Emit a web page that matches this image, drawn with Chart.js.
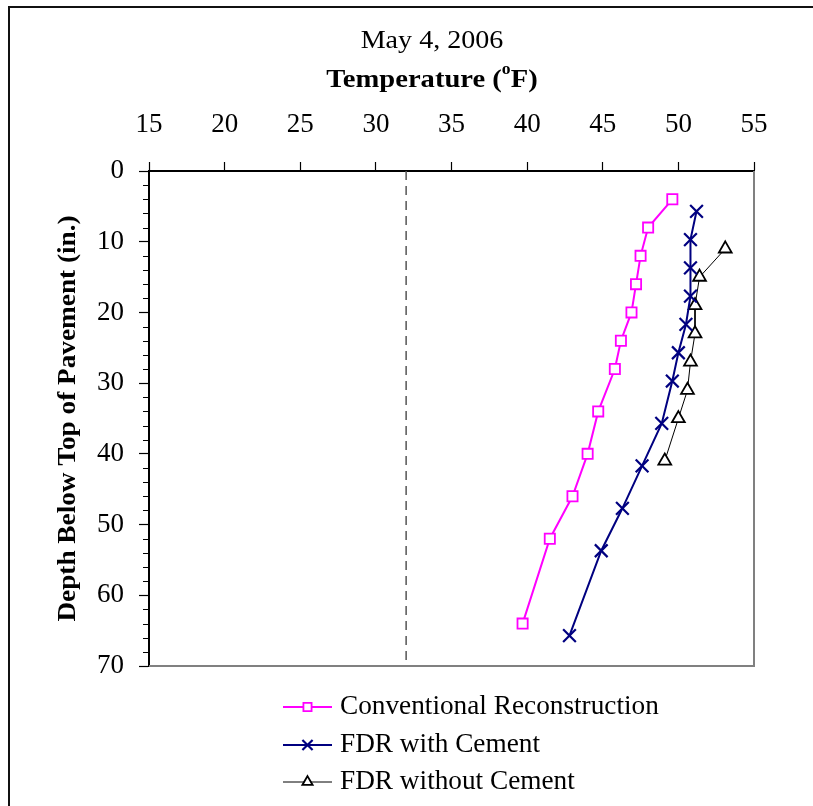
<!DOCTYPE html>
<html>
<head>
<meta charset="utf-8">
<script src="https://cdn.jsdelivr.net/npm/chart.js@4.4.0/dist/chart.umd.min.js"></script>
<style>
  html, body { margin: 0; padding: 0; background: #fff; }
  #wrap { width: 813px; height: 806px; }
</style>
</head>
<body>
<div id="wrap"><canvas id="profile-chart" width="813" height="806"></canvas></div>
<script>
// depth below pavement surface (in.) and measured temperature (F)
const convDepth = [4, 8, 12, 16, 20, 24, 28, 34, 40, 46, 52, 64];
const convTemp  = [49.6, 48.0, 47.5, 47.2, 46.9, 46.2, 45.8, 44.7, 44.0, 43.0, 41.5, 39.7];

const cemDepth = [5.7, 9.7, 13.7, 17.7, 21.7, 25.7, 29.7, 35.7, 41.7, 47.7, 53.7, 65.7];
const cemTemp  = [51.2, 50.8, 50.8, 50.8, 50.5, 50.0, 49.6, 48.9, 47.6, 46.3, 44.9, 42.8];

const noCemDepth = [11, 15, 19, 23, 27, 31, 35, 41];
const noCemTemp  = [53.1, 51.4, 51.1, 51.1, 50.8, 50.6, 50.0, 49.1];

const freezeTemp = 32;
const depthRange = [0, 70];
const tempRange = [15, 55];

const seriesNames = ['Conventional Reconstruction', 'FDR with Cement', 'FDR without Cement'];
const chartTitle = 'May 4, 2006';
const xTitle = ['Temperature (', 'o', 'F)'];
const yTitle = 'Depth Below Top of Pavement (in.)';

const SERIF = "'Liberation Serif', 'Times New Roman', serif";

function pts(temps, depths) {
  return temps.map((t, i) => ({ x: t, y: depths[i] }));
}

const seriesStyles = [
  { color: '#FF00FF', style: 'rect', radius: 7.2, width: 2, markWidth: 1.8 },
  { color: '#000080', style: 'crossRot', radius: 9, width: 2, markWidth: 2.2 },
  { color: '#000000', style: 'triangle', radius: 7.4, width: 1, markWidth: 1.8 }
];

function stretchedText(ctx, text, x, y, font, sx, align) {
  ctx.save();
  ctx.font = font;
  ctx.textBaseline = 'middle';
  ctx.textAlign = align || 'center';
  ctx.translate(x, y);
  ctx.scale(sx, 1);
  ctx.fillText(text, 0, 0);
  ctx.restore();
}

function drawMarker(ctx, s, x, y) {
  ctx.save();
  ctx.strokeStyle = s.color;
  ctx.fillStyle = '#fff';
  ctx.lineWidth = s.markWidth;
  ctx.beginPath();
  if (s.style === 'rect') {
    const h = s.radius * Math.SQRT1_2;
    ctx.rect(x - h, y - h, 2 * h, 2 * h);
    ctx.fill();
  } else if (s.style === 'crossRot') {
    const h = s.radius * Math.SQRT1_2;
    ctx.moveTo(x - h, y - h); ctx.lineTo(x + h, y + h);
    ctx.moveTo(x + h, y - h); ctx.lineTo(x - h, y + h);
  } else {
    const r = s.radius;
    ctx.moveTo(x, y - r);
    ctx.lineTo(x + r * 0.866, y + r / 2);
    ctx.lineTo(x - r * 0.866, y + r / 2);
    ctx.closePath();
    ctx.fill();
  }
  ctx.stroke();
  ctx.restore();
}

const decorations = {
  id: 'decorations',
  beforeDatasetsDraw(chart) {
    const { ctx, chartArea: a } = chart;
    // plot area frame on the right and bottom
    ctx.save();
    ctx.strokeStyle = '#808080';
    ctx.lineWidth = 2;
    ctx.beginPath();
    ctx.moveTo(a.left, a.bottom);
    ctx.lineTo(a.right, a.bottom);
    ctx.lineTo(a.right, a.top);
    ctx.stroke();

    // minor ticks on the depth axis
    const ys = chart.scales.y;
    ctx.strokeStyle = '#000';
    ctx.lineWidth = 1.2;
    ctx.beginPath();
    for (let d = depthRange[0]; d <= depthRange[1]; d += 2) {
      if (d % 10 === 0) continue;
      const py = Math.round(ys.getPixelForValue(d)) + 0.5;
      ctx.moveTo(a.left - 6, py);
      ctx.lineTo(a.left, py);
    }
    ctx.stroke();
    ctx.restore();
  },
  afterDraw(chart) {
    const { ctx, chartArea: a } = chart;
    ctx.save();
    ctx.fillStyle = '#000';

    // outer frame
    ctx.strokeStyle = '#111';
    ctx.lineWidth = 2;
    ctx.beginPath();
    ctx.moveTo(9, chart.height);
    ctx.lineTo(9, 7);
    ctx.lineTo(chart.width, 7);
    ctx.stroke();

    stretchedText(ctx, chartTitle, 432, 41, '26px ' + SERIF, 1.08);

    // axis title with superscript degree "o"
    const big = 'bold 26px ' + SERIF, small = 'bold 16px ' + SERIF;
    const sx = 1.1;
    ctx.font = big;
    const w0 = ctx.measureText(xTitle[0]).width;
    const w2 = ctx.measureText(xTitle[2]).width;
    ctx.font = small;
    const w1 = ctx.measureText(xTitle[1]).width;
    const total = (w0 + w1 + w2) * sx;
    let tx = 432 - total / 2;
    stretchedText(ctx, xTitle[0], tx, 80, big, sx, 'left');
    tx += w0 * sx;
    stretchedText(ctx, xTitle[1], tx, 70, small, sx, 'left');
    tx += w1 * sx;
    stretchedText(ctx, xTitle[2], tx, 80, big, sx, 'left');

    // depth axis title, rotated
    ctx.save();
    ctx.translate(69, (a.top + a.bottom) / 2);
    ctx.rotate(-Math.PI / 2);
    stretchedText(ctx, yTitle, 0, 0, 'bold 25px ' + SERIF, 1.09);
    ctx.restore();

    // legend
    const rows = [707, 745, 782];
    seriesNames.forEach((name, i) => {
      const s = seriesStyles[i];
      const y = rows[i];
      ctx.save();
      ctx.strokeStyle = s.color;
      ctx.lineWidth = s.width;
      ctx.beginPath();
      ctx.moveTo(283, y);
      ctx.lineTo(332, y);
      ctx.stroke();
      ctx.restore();
      drawMarker(ctx, Object.assign({}, s, { radius: s.radius * 0.8 }), 307.5, y);
      ctx.fillStyle = '#000';
      stretchedText(ctx, name, 340, y, '27px ' + SERIF, 1.01, 'left');
    });
    ctx.restore();
  }
};

function makeSet(label, data, s) {
  return {
    label: label,
    data: data,
    showLine: true,
    borderColor: s.color,
    borderWidth: s.width,
    pointStyle: s.style,
    pointRadius: s.radius,
    pointHoverRadius: s.radius,
    pointBorderColor: s.color,
    pointBackgroundColor: '#fff',
    pointBorderWidth: s.markWidth,
    tension: 0,
    fill: false
  };
}

new Chart(document.getElementById('profile-chart'), {
  type: 'scatter',
  data: {
    datasets: [
      {
        label: 'freezing',
        data: [{ x: freezeTemp, y: depthRange[0] }, { x: freezeTemp, y: depthRange[1] }],
        showLine: true,
        borderColor: '#555',
        borderWidth: 1.5,
        borderDash: [9, 6],
        pointRadius: 0,
        pointHoverRadius: 0
      },
      makeSet(seriesNames[0], pts(convTemp, convDepth), seriesStyles[0]),
      makeSet(seriesNames[1], pts(cemTemp, cemDepth), seriesStyles[1]),
      makeSet(seriesNames[2], pts(noCemTemp, noCemDepth), seriesStyles[2])
    ]
  },
  options: {
    responsive: false,
    animation: false,
    events: [],
    layout: { padding: { top: 100, left: 20, right: 59, bottom: 140 } },
    plugins: {
      legend: { display: false },
      title: { display: false },
      tooltip: { enabled: false }
    },
    scales: {
      x: {
        type: 'linear',
        position: 'top',
        min: tempRange[0],
        max: tempRange[1],
        afterFit(scale) { scale.height = 71; },
        ticks: {
          stepSize: 5,
          padding: 21,
          color: '#000',
          font: { family: SERIF, size: 27 },
          maxRotation: 0
        },
        grid: { drawOnChartArea: false, tickLength: 9, color: '#000', tickWidth: 1.2 },
        border: { color: '#000', width: 2 }
      },
      y: {
        type: 'linear',
        reverse: true,
        min: depthRange[0],
        max: depthRange[1],
        afterFit(scale) { scale.width = 129; },
        ticks: {
          stepSize: 10,
          padding: 15,
          color: '#000',
          font: { family: SERIF, size: 27 }
        },
        grid: { drawOnChartArea: false, tickLength: 10, color: '#000', tickWidth: 1.2 },
        border: { color: '#000', width: 2 }
      }
    }
  },
  plugins: [decorations]
});
</script>
</body>
</html>
